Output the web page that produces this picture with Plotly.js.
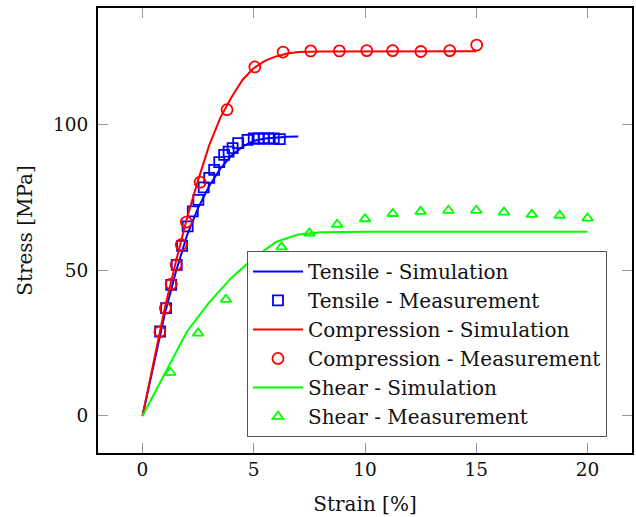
<!DOCTYPE html>
<html>
<head>
<meta charset="utf-8">
<script src="https://cdn.plot.ly/plotly-3.0.1.min.js"></script>
<style>
  html, body { margin: 0; padding: 0; background: #fff; }
  #chart { width: 636px; height: 517px; }
</style>
</head>
<body>
<div id="chart"></div>
<script>
// Stress–strain curves: simulation vs. measurement for three load cases

// Tensile
const tensileSimStrain = [0, 0.5, 1, 1.5, 2, 2.5, 3, 3.5, 4, 4.5, 5, 5.5, 6, 6.5, 7];
const tensileSimStress = [0, 18, 35, 49.5, 62, 71.5, 79, 85, 89.5, 92.5, 94.5, 95.3, 95.7, 95.9, 96.0];
const tensileMeasStrain = [0.79, 1.06, 1.29, 1.54, 1.78, 2.03, 2.26, 2.51, 2.75, 3.0, 3.22, 3.45, 3.67, 3.87, 4.05, 4.3, 4.72, 5.0, 5.22, 5.45, 5.67, 5.9, 6.17];
const tensileMeasStress = [29.0, 37.0, 45.0, 51.9, 58.4, 65.1, 70.3, 74.2, 78.5, 81.8, 84.5, 87.2, 89.7, 90.8, 92.0, 93.7, 94.8, 95.3, 95.3, 95.3, 95.3, 95.3, 95.1];

// Compression
const compSimStrain = [0, 0.5, 1, 1.5, 2, 2.5, 3, 3.5, 4, 4.5, 5, 5.5, 6, 6.5, 7, 8, 10, 15];
const compSimStress = [0, 18.5, 37, 53, 68, 81, 93, 102.5, 109.5, 115.5, 119.5, 122, 123.5, 124.5, 125, 125.2, 125.3, 125.3];
const compMeasStrain = [0.78, 1.03, 1.29, 1.51, 1.74, 1.97, 2.59, 3.8, 5.05, 6.32, 7.56, 8.85, 10.08, 11.24, 12.51, 13.81, 15.02];
const compMeasStress = [28.9, 37.0, 45.3, 51.9, 58.8, 66.6, 80.3, 105.2, 119.9, 125.0, 125.4, 125.4, 125.5, 125.5, 125.2, 125.5, 127.4];

// Shear
const shearSimStrain = [0, 2, 3, 4, 5, 6, 7, 8, 10, 20];
const shearSimStress = [0, 29, 39, 47.5, 54.2, 59.8, 62.3, 63.1, 63.3, 63.3];
const shearMeasStrain = [1.25, 2.5, 3.75, 5.0, 6.25, 7.5, 8.75, 10.0, 11.25, 12.5, 13.75, 15.0, 16.25, 17.5, 18.75, 20.0];
const shearMeasStress = [14.9, 28.4, 40.0, 50.0, 58.0, 62.8, 65.8, 67.7, 69.5, 70.2, 70.6, 70.6, 70.0, 69.2, 68.9, 67.9];

const seriesNames = [
  'Tensile - Simulation', 'Tensile - Measurement',
  'Compression - Simulation', 'Compression - Measurement',
  'Shear - Simulation', 'Shear - Measurement'
];

const BLUE = '#0000ff', RED = '#ff0000', GREEN = '#00ff00';
const SERIF = 'DejaVu Serif, Liberation Serif, serif';

function simTrace(x, y, name, color) {
  return { x, y, name, type: 'scatter', mode: 'lines',
           line: { color, width: 2 } };
}
function measTrace(x, y, name, color, symbol, size) {
  return { x, y, name, type: 'scatter', mode: 'markers',
           marker: { symbol, size, color, line: { width: 1.8 } } };
}

const traces = [
  simTrace(tensileSimStrain, tensileSimStress, seriesNames[0], BLUE),
  measTrace(tensileMeasStrain, tensileMeasStress, seriesNames[1], BLUE, 'square-open', 10),
  simTrace(compSimStrain, compSimStress, seriesNames[2], RED),
  measTrace(compMeasStrain, compMeasStress, seriesNames[3], RED, 'circle-open', 11),
  simTrace(shearSimStrain, shearSimStress, seriesNames[4], GREEN),
  measTrace(shearMeasStrain, shearMeasStress, seriesNames[5], GREEN, 'triangle-up-open', 9.5)
];

const axisCommon = {
  showline: true, linecolor: '#000', linewidth: 2, mirror: 'ticks',
  ticks: 'inside', ticklen: 10, tickwidth: 1, tickcolor: '#999',
  showgrid: false, zeroline: false,
  tickfont: { family: SERIF, size: 18.5, color: '#111' }
};

const layout = {
  width: 636, height: 517,
  margin: { l: 98, r: 4, t: 8, b: 64 },
  paper_bgcolor: '#fff', plot_bgcolor: '#fff',
  showlegend: true,
  xaxis: Object.assign({}, axisCommon, {
    range: [-2, 22], tickvals: [0, 5, 10, 15, 20],
    ticklabelstandoff: -1,
    title: { text: 'Strain [%]', font: { family: SERIF, size: 20, color: '#111' }, standoff: 18 }
  }),
  yaxis: Object.assign({}, axisCommon, {
    range: [-12.74, 140.14], tickvals: [0, 50, 100],
    ticklabelstandoff: 4,
    title: { text: 'Stress [MPa]', font: { family: SERIF, size: 20, color: '#111' }, standoff: 15 }
  }),
  legend: {
    x: 0.279, y: 0.454, xanchor: 'left', yanchor: 'top',
    bgcolor: '#fff', bordercolor: '#555', borderwidth: 1,
    font: { family: SERIF, size: 20, color: '#111' },
    itemwidth: 50
  }
};

Plotly.newPlot('chart', traces, layout, { staticPlot: true, displayModeBar: false });
</script>
</body>
</html>
